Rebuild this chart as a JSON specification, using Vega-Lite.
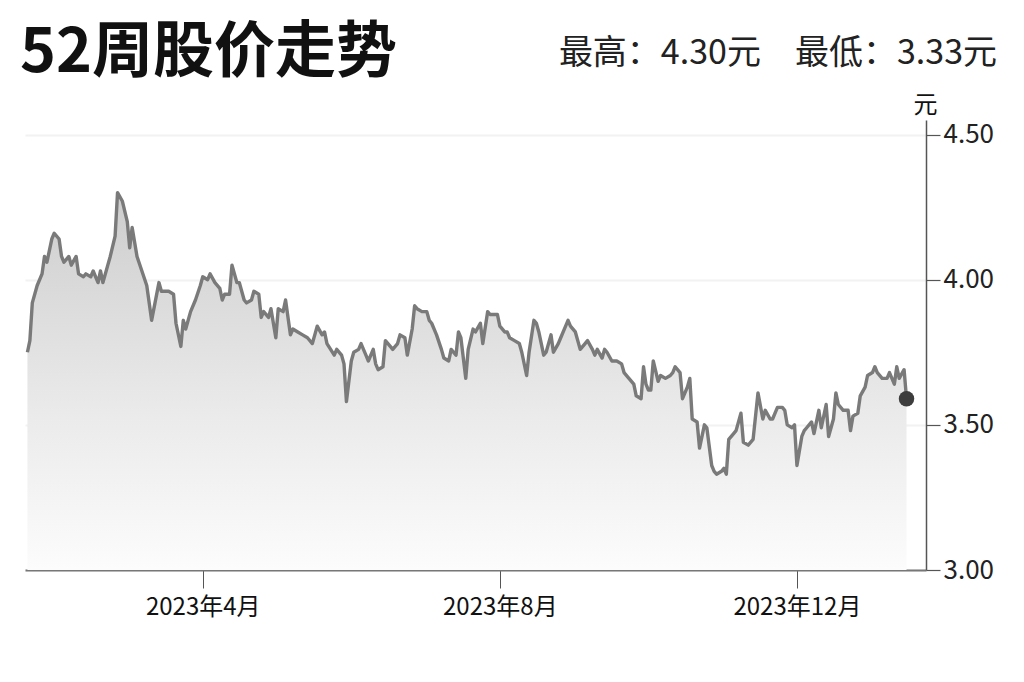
{
  "$schema": "https://vega.github.io/schema/vega-lite/v6.json",
  "width": 901,
  "height": 450,
  "autosize": {"type": "none"},
  "padding": {"left": 25, "top": 120, "right": 98, "bottom": 112},
  "background": "white",
  "config": {"font": "Noto Sans CJK SC", "view": {"stroke": null}},
  "title": {
    "text": "52周股价走势",
    "anchor": "start",
    "frame": "group",
    "font": "Noto Sans CJK SC",
    "fontSize": 61,
    "fontWeight": "bold",
    "color": "#111111",
    "dx": -5,
    "dy": 58,
    "offset": 10
  },
  "datasets": {
    "price": [
      {"d": "2023-01-19", "p": 3.75}, {"d": "2023-01-20", "p": 3.79}, {"d": "2023-01-21", "p": 3.92},
      {"d": "2023-01-23", "p": 3.98}, {"d": "2023-01-25", "p": 4.02}, {"d": "2023-01-26", "p": 4.08},
      {"d": "2023-01-27", "p": 4.06}, {"d": "2023-01-29", "p": 4.14}, {"d": "2023-01-30", "p": 4.16},
      {"d": "2023-02-01", "p": 4.14}, {"d": "2023-02-02", "p": 4.08}, {"d": "2023-02-03", "p": 4.06},
      {"d": "2023-02-05", "p": 4.08}, {"d": "2023-02-06", "p": 4.05}, {"d": "2023-02-08", "p": 4.08},
      {"d": "2023-02-09", "p": 4.02}, {"d": "2023-02-11", "p": 4.01}, {"d": "2023-02-12", "p": 4.02},
      {"d": "2023-02-14", "p": 4.01}, {"d": "2023-02-15", "p": 4.03}, {"d": "2023-02-17", "p": 3.99},
      {"d": "2023-02-18", "p": 4.03}, {"d": "2023-02-19", "p": 3.99}, {"d": "2023-02-21", "p": 4.05},
      {"d": "2023-02-22", "p": 4.08}, {"d": "2023-02-24", "p": 4.15}, {"d": "2023-02-25", "p": 4.30},
      {"d": "2023-02-27", "p": 4.27}, {"d": "2023-03-01", "p": 4.20}, {"d": "2023-03-02", "p": 4.11},
      {"d": "2023-03-03", "p": 4.18}, {"d": "2023-03-05", "p": 4.08}, {"d": "2023-03-07", "p": 4.03},
      {"d": "2023-03-09", "p": 3.98}, {"d": "2023-03-11", "p": 3.86}, {"d": "2023-03-14", "p": 3.99},
      {"d": "2023-03-15", "p": 3.96}, {"d": "2023-03-18", "p": 3.96}, {"d": "2023-03-20", "p": 3.95},
      {"d": "2023-03-21", "p": 3.85}, {"d": "2023-03-23", "p": 3.77}, {"d": "2023-03-24", "p": 3.86},
      {"d": "2023-03-25", "p": 3.83}, {"d": "2023-03-27", "p": 3.89}, {"d": "2023-03-29", "p": 3.93},
      {"d": "2023-03-31", "p": 3.98}, {"d": "2023-04-01", "p": 4.01}, {"d": "2023-04-03", "p": 4.00},
      {"d": "2023-04-04", "p": 4.02}, {"d": "2023-04-06", "p": 3.99}, {"d": "2023-04-08", "p": 3.97},
      {"d": "2023-04-09", "p": 3.93}, {"d": "2023-04-10", "p": 3.95}, {"d": "2023-04-12", "p": 3.95},
      {"d": "2023-04-13", "p": 4.05}, {"d": "2023-04-15", "p": 3.99}, {"d": "2023-04-16", "p": 3.99},
      {"d": "2023-04-18", "p": 3.93}, {"d": "2023-04-19", "p": 3.92}, {"d": "2023-04-21", "p": 3.93},
      {"d": "2023-04-22", "p": 3.96}, {"d": "2023-04-24", "p": 3.95}, {"d": "2023-04-25", "p": 3.87},
      {"d": "2023-04-26", "p": 3.89}, {"d": "2023-04-28", "p": 3.87}, {"d": "2023-04-29", "p": 3.90},
      {"d": "2023-05-01", "p": 3.80}, {"d": "2023-05-02", "p": 3.90}, {"d": "2023-05-04", "p": 3.89},
      {"d": "2023-05-05", "p": 3.93}, {"d": "2023-05-07", "p": 3.81}, {"d": "2023-05-08", "p": 3.83},
      {"d": "2023-05-10", "p": 3.82}, {"d": "2023-05-12", "p": 3.81}, {"d": "2023-05-14", "p": 3.80},
      {"d": "2023-05-16", "p": 3.78}, {"d": "2023-05-17", "p": 3.81}, {"d": "2023-05-18", "p": 3.84},
      {"d": "2023-05-20", "p": 3.81}, {"d": "2023-05-21", "p": 3.82}, {"d": "2023-05-22", "p": 3.78},
      {"d": "2023-05-25", "p": 3.74}, {"d": "2023-05-26", "p": 3.76}, {"d": "2023-05-28", "p": 3.74},
      {"d": "2023-05-29", "p": 3.71}, {"d": "2023-05-30", "p": 3.58}, {"d": "2023-06-01", "p": 3.72},
      {"d": "2023-06-02", "p": 3.75}, {"d": "2023-06-04", "p": 3.76}, {"d": "2023-06-05", "p": 3.78},
      {"d": "2023-06-07", "p": 3.74}, {"d": "2023-06-08", "p": 3.72}, {"d": "2023-06-10", "p": 3.76},
      {"d": "2023-06-11", "p": 3.71}, {"d": "2023-06-12", "p": 3.69}, {"d": "2023-06-14", "p": 3.70},
      {"d": "2023-06-15", "p": 3.79}, {"d": "2023-06-17", "p": 3.77}, {"d": "2023-06-18", "p": 3.76},
      {"d": "2023-06-20", "p": 3.78}, {"d": "2023-06-21", "p": 3.81}, {"d": "2023-06-23", "p": 3.80},
      {"d": "2023-06-24", "p": 3.74}, {"d": "2023-06-26", "p": 3.83}, {"d": "2023-06-27", "p": 3.91},
      {"d": "2023-06-28", "p": 3.90}, {"d": "2023-06-30", "p": 3.89}, {"d": "2023-07-02", "p": 3.89},
      {"d": "2023-07-03", "p": 3.86}, {"d": "2023-07-04", "p": 3.85}, {"d": "2023-07-06", "p": 3.81},
      {"d": "2023-07-08", "p": 3.76}, {"d": "2023-07-09", "p": 3.73}, {"d": "2023-07-11", "p": 3.72},
      {"d": "2023-07-12", "p": 3.76}, {"d": "2023-07-14", "p": 3.74}, {"d": "2023-07-15", "p": 3.82},
      {"d": "2023-07-16", "p": 3.80}, {"d": "2023-07-18", "p": 3.66}, {"d": "2023-07-19", "p": 3.76},
      {"d": "2023-07-21", "p": 3.83}, {"d": "2023-07-22", "p": 3.82}, {"d": "2023-07-24", "p": 3.85},
      {"d": "2023-07-25", "p": 3.78}, {"d": "2023-07-27", "p": 3.89}, {"d": "2023-07-28", "p": 3.88},
      {"d": "2023-07-30", "p": 3.88}, {"d": "2023-07-31", "p": 3.88}, {"d": "2023-08-01", "p": 3.84},
      {"d": "2023-08-03", "p": 3.82}, {"d": "2023-08-04", "p": 3.82}, {"d": "2023-08-05", "p": 3.80},
      {"d": "2023-08-07", "p": 3.79}, {"d": "2023-08-09", "p": 3.78}, {"d": "2023-08-10", "p": 3.75},
      {"d": "2023-08-12", "p": 3.67}, {"d": "2023-08-13", "p": 3.75}, {"d": "2023-08-15", "p": 3.86},
      {"d": "2023-08-16", "p": 3.85}, {"d": "2023-08-17", "p": 3.82}, {"d": "2023-08-19", "p": 3.74},
      {"d": "2023-08-20", "p": 3.75}, {"d": "2023-08-22", "p": 3.81}, {"d": "2023-08-23", "p": 3.75},
      {"d": "2023-08-25", "p": 3.78}, {"d": "2023-08-26", "p": 3.80}, {"d": "2023-08-28", "p": 3.84},
      {"d": "2023-08-29", "p": 3.86}, {"d": "2023-08-30", "p": 3.84}, {"d": "2023-09-01", "p": 3.82},
      {"d": "2023-09-03", "p": 3.76}, {"d": "2023-09-05", "p": 3.78}, {"d": "2023-09-06", "p": 3.79},
      {"d": "2023-09-08", "p": 3.76}, {"d": "2023-09-09", "p": 3.74}, {"d": "2023-09-10", "p": 3.76},
      {"d": "2023-09-12", "p": 3.73}, {"d": "2023-09-13", "p": 3.76}, {"d": "2023-09-14", "p": 3.75},
      {"d": "2023-09-16", "p": 3.72}, {"d": "2023-09-18", "p": 3.72}, {"d": "2023-09-20", "p": 3.71},
      {"d": "2023-09-21", "p": 3.68}, {"d": "2023-09-23", "p": 3.66}, {"d": "2023-09-25", "p": 3.64},
      {"d": "2023-09-26", "p": 3.60}, {"d": "2023-09-28", "p": 3.59}, {"d": "2023-09-29", "p": 3.70},
      {"d": "2023-09-30", "p": 3.64}, {"d": "2023-10-01", "p": 3.62}, {"d": "2023-10-02", "p": 3.62},
      {"d": "2023-10-03", "p": 3.72}, {"d": "2023-10-05", "p": 3.65}, {"d": "2023-10-06", "p": 3.67},
      {"d": "2023-10-08", "p": 3.66}, {"d": "2023-10-10", "p": 3.67}, {"d": "2023-10-11", "p": 3.68},
      {"d": "2023-10-12", "p": 3.70}, {"d": "2023-10-14", "p": 3.68}, {"d": "2023-10-15", "p": 3.59},
      {"d": "2023-10-17", "p": 3.63}, {"d": "2023-10-18", "p": 3.66}, {"d": "2023-10-19", "p": 3.52},
      {"d": "2023-10-21", "p": 3.51}, {"d": "2023-10-22", "p": 3.42}, {"d": "2023-10-24", "p": 3.50},
      {"d": "2023-10-25", "p": 3.49}, {"d": "2023-10-27", "p": 3.36}, {"d": "2023-10-28", "p": 3.34},
      {"d": "2023-10-29", "p": 3.33}, {"d": "2023-10-31", "p": 3.34}, {"d": "2023-11-01", "p": 3.35},
      {"d": "2023-11-02", "p": 3.33}, {"d": "2023-11-03", "p": 3.45}, {"d": "2023-11-05", "p": 3.47},
      {"d": "2023-11-06", "p": 3.48}, {"d": "2023-11-08", "p": 3.54}, {"d": "2023-11-09", "p": 3.44},
      {"d": "2023-11-11", "p": 3.43}, {"d": "2023-11-13", "p": 3.45}, {"d": "2023-11-15", "p": 3.61},
      {"d": "2023-11-17", "p": 3.52}, {"d": "2023-11-18", "p": 3.55}, {"d": "2023-11-20", "p": 3.52},
      {"d": "2023-11-21", "p": 3.52}, {"d": "2023-11-23", "p": 3.56}, {"d": "2023-11-25", "p": 3.56},
      {"d": "2023-11-26", "p": 3.55}, {"d": "2023-11-27", "p": 3.50}, {"d": "2023-11-29", "p": 3.49},
      {"d": "2023-11-30", "p": 3.50}, {"d": "2023-12-01", "p": 3.36}, {"d": "2023-12-03", "p": 3.46},
      {"d": "2023-12-04", "p": 3.48}, {"d": "2023-12-05", "p": 3.49}, {"d": "2023-12-07", "p": 3.51},
      {"d": "2023-12-08", "p": 3.47}, {"d": "2023-12-10", "p": 3.55}, {"d": "2023-12-11", "p": 3.49},
      {"d": "2023-12-13", "p": 3.57}, {"d": "2023-12-14", "p": 3.46}, {"d": "2023-12-16", "p": 3.52},
      {"d": "2023-12-17", "p": 3.61}, {"d": "2023-12-18", "p": 3.57}, {"d": "2023-12-20", "p": 3.55},
      {"d": "2023-12-22", "p": 3.55}, {"d": "2023-12-23", "p": 3.48}, {"d": "2023-12-24", "p": 3.53},
      {"d": "2023-12-26", "p": 3.54}, {"d": "2023-12-27", "p": 3.60}, {"d": "2023-12-29", "p": 3.63},
      {"d": "2023-12-30", "p": 3.67}, {"d": "2024-01-01", "p": 3.68}, {"d": "2024-01-02", "p": 3.70},
      {"d": "2024-01-03", "p": 3.68}, {"d": "2024-01-05", "p": 3.66}, {"d": "2024-01-07", "p": 3.66},
      {"d": "2024-01-08", "p": 3.68}, {"d": "2024-01-10", "p": 3.64}, {"d": "2024-01-11", "p": 3.70},
      {"d": "2024-01-12", "p": 3.66}, {"d": "2024-01-14", "p": 3.69}, {"d": "2024-01-15", "p": 3.59}
    ],
    "last": [{"d": "2024-01-15", "p": 3.59}],
    "range": [{"d": "2024-01-23", "p": 4.55, "t": "最高：4.30元　最低：3.33元"}]
  },
  "encoding": {
    "x": {
      "field": "d",
      "type": "temporal",
      "scale": {
        "type": "utc",
        "domain": [
          {"year": 2023, "month": 1, "date": 18, "utc": true},
          {"year": 2024, "month": 1, "date": 23, "utc": true}
        ]
      },
      "axis": {
        "title": null,
        "grid": false,
        "values": [
          {"year": 2023, "month": 4, "date": 1, "utc": true},
          {"year": 2023, "month": 8, "date": 1, "utc": true},
          {"year": 2023, "month": 12, "date": 1, "utc": true}
        ],
        "labelExpr": "utcFormat(datum.value, '%Y年%-m月')",
        "domainColor": "#777777",
        "domainWidth": 2,
        "tickColor": "#555555",
        "tickWidth": 1,
        "tickSize": 18,
        "labelFontSize": 24,
        "labelColor": "#111111",
        "labelPadding": 7
      }
    },
    "y": {
      "field": "p",
      "type": "quantitative",
      "scale": {"domain": [3, 4.55], "zero": false, "nice": false},
      "axis": {
        "orient": "right",
        "values": [3, 3.5, 4, 4.5],
        "format": ".2f",
        "title": "元",
        "titleAngle": 0,
        "titleFontSize": 24,
        "titleFontWeight": "normal",
        "titleColor": "#111111",
        "titleX": -1,
        "titleY": -8,
        "titleAlign": "center",
        "titleBaseline": "alphabetic",
        "domainColor": "#555555",
        "domainWidth": 1.5,
        "tickColor": "#555555",
        "tickWidth": 1.2,
        "tickSize": 14,
        "labelPadding": 3,
        "labelFontSize": 26,
        "labelColor": "#222222",
        "grid": true,
        "gridColor": "#f2f2f2",
        "gridWidth": 2
      }
    }
  },
  "layer": [
    {
      "data": {"name": "price"},
      "mark": {
        "type": "area",
        "color": {
          "gradient": "linear",
          "x1": 0, "y1": 0, "x2": 0, "y2": 1,
          "stops": [
            {"offset": 0, "color": "#cdcdcd"},
            {"offset": 0.6, "color": "#ebebeb"},
            {"offset": 1, "color": "#fcfcfc"}
          ]
        }
      },
      "encoding": {"y2": {"datum": 3}}
    },
    {
      "data": {"name": "price"},
      "mark": {"type": "line", "color": "#7a7a7a", "strokeWidth": 3.4, "strokeJoin": "round"}
    },
    {
      "data": {"name": "last"},
      "mark": {"type": "circle", "size": 240, "color": "#3d3d3d", "opacity": 1}
    },
    {
      "data": {"name": "range"},
      "mark": {"type": "text", "align": "right", "baseline": "alphabetic", "fontSize": 34, "dx": 71, "dy": -56, "color": "#222222"},
      "encoding": {"text": {"field": "t"}}
    }
  ]
}
